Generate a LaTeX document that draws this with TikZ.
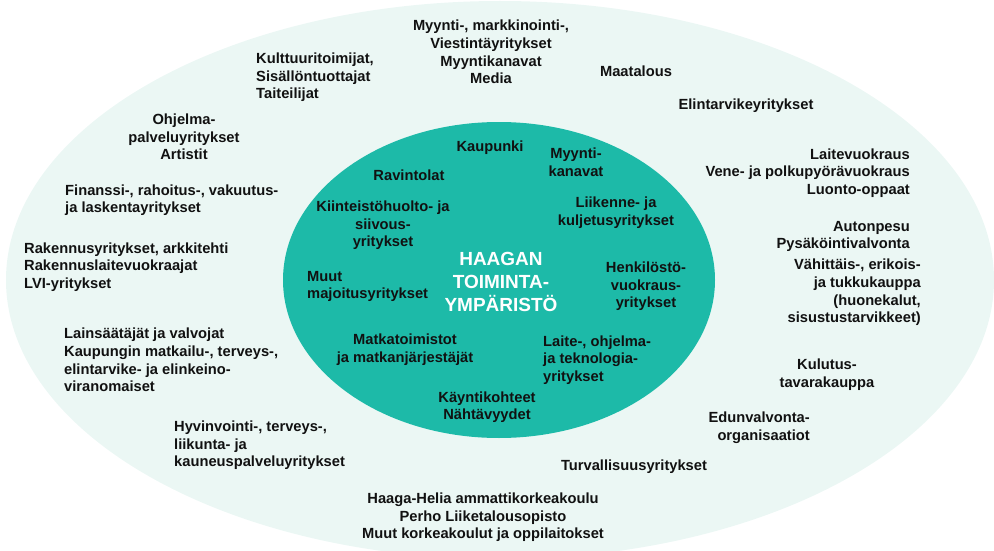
\documentclass[tikz,border=0pt]{standalone}
\usepackage{fontspec}
\setmainfont{Liberation Sans}
\definecolor{outerfill}{HTML}{EBF7F4}
\definecolor{innerfill}{HTML}{1DBAA8}
\definecolor{txt}{HTML}{111111}
\tikzset{
  lbl/.style={font=\bfseries\fontsize{14.7}{17.6}\selectfont, inner sep=0pt, align=center, text=txt},
  lbll/.style={lbl, align=left, anchor=west},
  lblr/.style={lbl, align=right, anchor=east},
  title/.style={font=\bfseries\fontsize{19}{23}\selectfont, inner sep=0pt, align=center, text=white}
}
\begin{document}
\begin{tikzpicture}[x=1pt,y=-1pt]
\useasboundingbox (0,0) rectangle (994,551);
\clip (0,0) rectangle (994,551);
% environment rings
\fill[outerfill] (500,280) ellipse [x radius=494, y radius=279];
\fill[innerfill] (499,280) ellipse [x radius=216, y radius=158];

% outer ring
\node[lbll] (kult) at (256,77.5) {Kulttuuritoimijat,\\Sisällöntuottajat\\Taiteilijat};
\node[lbl] (myy) at (491,52) {Myynti-, markkinointi-,\\Viestintäyritykset\\Myyntikanavat\\Media};
\node[lbl] (maa) at (636,71) {Maatalous};
\node[lbl] (elin) at (746,106) {Elintarvikeyritykset};
\node[lbl] (ohj) at (184,137) {Ohjelma-\\palveluyritykset\\Artistit};
\node[lbll] (fin) at (65,200) {Finanssi-, rahoitus-, vakuutus-\\ja laskentayritykset};
\node[lbll] (rak) at (24,267) {Rakennusyritykset, arkkitehti\\Rakennuslaitevuokraajat\\LVI-yritykset};
\node[lblr] (lait) at (910,173) {Laitevuokraus\\Vene- ja polkupyörävuokraus\\Luonto-oppaat};
\node[lblr] (auto) at (910,236.5) {Autonpesu\\Pysäköintivalvonta};
\node[lblr] (vah) at (921,292.5) {Vähittäis-, erikois-\\ja tukkukauppa\\(huonekalut,\\sisustustarvikkeet)};
\node[lbll] (lain) at (64,360) {Lainsäätäjät ja valvojat\\Kaupungin matkailu-, terveys-,\\elintarvike- ja elinkeino-\\viranomaiset};
\node[lbl] (kul) at (827,374.5) {Kulutus-\\tavarakauppa};
\node[lblr] (edu) at (810,427.5) {Edunvalvonta-\\organisaatiot};
\node[lbll] (hyv) at (174,445.5) {Hyvinvointi-, terveys-,\\liikunta- ja\\kauneuspalveluyritykset};
\node[lbl] (turv) at (634,467) {Turvallisuusyritykset};
\node[lbl] (haaga) at (483,517.5) {Haaga-Helia ammattikorkeakoulu\\Perho Liiketalousopisto\\Muut korkeakoulut ja oppilaitokset};

% inner ring
\node[title] (core) at (501,282) {HAAGAN\\TOIMINTA-\\YMPÄRISTÖ};
\node[lbl] (kau) at (490,148) {Kaupunki};
\node[lbl] (rav) at (409,175) {Ravintolat};
\node[lbl] (myk) at (576,162.5) {Myynti-\\kanavat};
\node[lbl] (kiin) at (383,225.5) {Kiinteistöhuolto- ja\\siivous-\\yritykset};
\node[lbl] (lii) at (616,212.5) {Liikenne- ja\\kuljetusyritykset};
\node[lbll] (muut) at (307,286.5) {Muut\\majoitusyritykset};
\node[lbl] (hen) at (646,286.5) {Henkilöstö-\\vuokraus-\\yritykset};
\node[lbl] (mat) at (405,349.5) {Matkatoimistot\\ja matkanjärjestäjät};
\node[lbll] (lai) at (543,360) {Laite-, ohjelma-\\ja teknologia-\\yritykset};
\node[lbl] (kay) at (487,407) {Käyntikohteet\\Nähtävyydet};
\end{tikzpicture}
\end{document}
